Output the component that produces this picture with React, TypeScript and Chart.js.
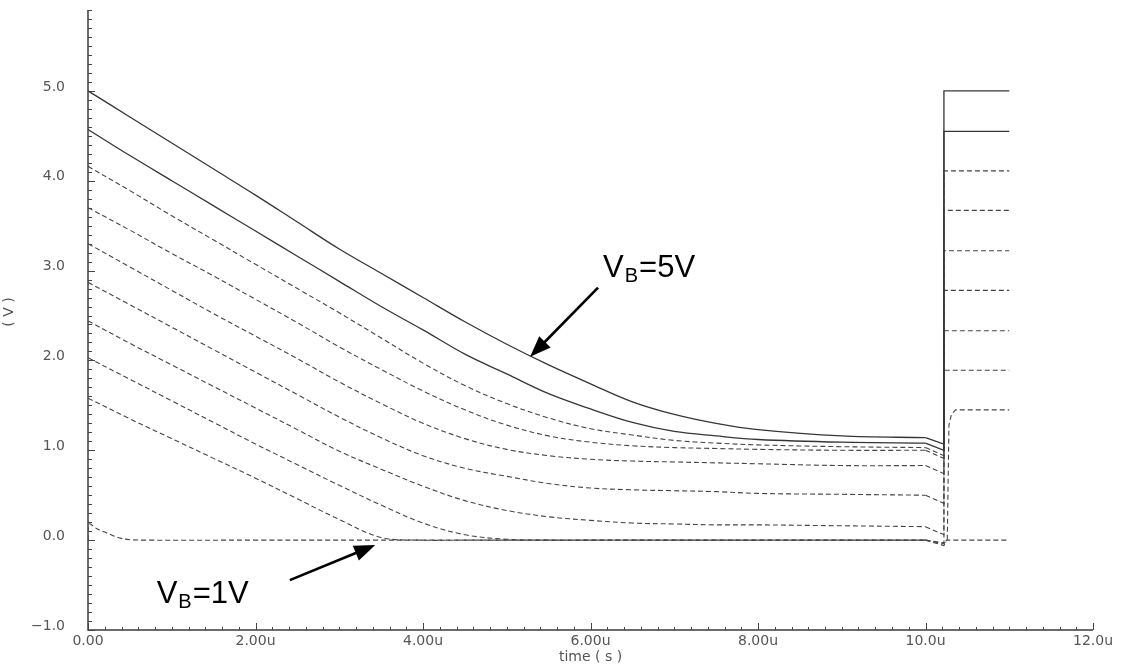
import React, { useEffect, useRef } from "react";
import { Chart, registerables } from "chart.js";

Chart.register(...registerables);

// Discharge phase sample times (µs)
const T_MAIN = [0, 0.5, 1, 1.5, 2, 2.5, 3, 3.5, 4, 4.5, 5, 5.5, 6, 6.5, 7, 7.5, 8, 9, 10];

// Output voltage (V) for each bias, sampled on T_MAIN
const VB_500 = [5.0, 4.71, 4.42, 4.13, 3.84, 3.54, 3.24, 2.97, 2.7, 2.43, 2.18, 1.95, 1.74, 1.54, 1.4, 1.3, 1.23, 1.16, 1.14];
const VB_456 = [4.57, 4.28, 4.0, 3.72, 3.44, 3.16, 2.88, 2.6, 2.34, 2.07, 1.85, 1.63, 1.46, 1.31, 1.21, 1.16, 1.12, 1.09, 1.08];
const VB_411 = [4.16, 3.89, 3.61, 3.34, 3.07, 2.8, 2.53, 2.25, 1.97, 1.72, 1.52, 1.36, 1.24, 1.17, 1.11, 1.08, 1.06, 1.04, 1.03];
const VB_367 = [3.7, 3.45, 3.19, 2.94, 2.68, 2.42, 2.15, 1.9, 1.66, 1.45, 1.28, 1.16, 1.09, 1.05, 1.03, 1.02, 1.01, 1.0, 1.0];
const VB_322 = [3.3, 3.04, 2.78, 2.52, 2.27, 2.02, 1.76, 1.52, 1.3, 1.13, 1.01, 0.94, 0.9, 0.88, 0.87, 0.86, 0.85, 0.83, 0.83];
const VB_278 = [2.87, 2.62, 2.37, 2.12, 1.87, 1.62, 1.37, 1.14, 0.94, 0.8, 0.71, 0.63, 0.58, 0.56, 0.55, 0.54, 0.52, 0.51, 0.5];
const VB_233 = [2.44, 2.19, 1.95, 1.71, 1.47, 1.23, 0.99, 0.79, 0.6, 0.44, 0.33, 0.26, 0.22, 0.19, 0.18, 0.17, 0.17, 0.16, 0.15];
const VB_189 = [2.03, 1.79, 1.55, 1.31, 1.07, 0.84, 0.61, 0.39, 0.19, 0.06, 0.01, 0, 0, 0, 0, 0, 0, 0, 0];
const VB_144 = [1.58, 1.35, 1.13, 0.91, 0.69, 0.46, 0.23, 0.03, 0, 0, 0, 0, 0, 0, 0, 0, 0, 0, 0];

// The 1 V trace settles almost immediately, so it has its own time base
const T_VB_100 = [0, 0.01, 0.1, 0.2, 0.3, 0.4, 0.5, 0.7, 2, 4, 6, 8, 10];
const VB_100 = [0, 0.18, 0.13, 0.09, 0.05, 0.02, 0.005, 0, 0, 0, 0, 0, 0];

// Switch-over at the end of the ramp: short droop, then the jump to the new level
const T_TAIL = [10.22, 10.22, 11.0];
const DROOP = [1.07, 1.0, 0.94, 0.91, 0.74, 0.41, 0.06, -0.03];
const LEVEL = [5.0, 4.55, 4.11, 3.67, 3.22, 2.78, 2.33, 1.89];
const T_TAIL_144 = [10.22, 10.26, 10.28, 10.31, 10.36, 11.0];
const V_TAIL_144 = [-0.04, 0.0, 1.28, 1.4, 1.45, 1.45];
const T_TAIL_100 = [10.22, 10.25, 11.0];
const V_TAIL_100 = [-0.06, 0.0, 0.0];

// Axis ticks
const X_TICKS = [0, 2, 4, 6, 8, 10, 12];
const X_LABELS = ["0.00", "2.00u", "4.00u", "6.00u", "8.00u", "10.0u", "12.0u"];
const Y_TICKS = [-1, 0, 1, 2, 3, 4, 5];
const Y_LABELS = ["\u22121.0", "0.0", "1.0", "2.0", "3.0", "4.0", "5.0"];

// Annotation anchors in data units: [t, v]
const LABEL_5V = [6.15, 2.93];
const ARROW_5V = [6.09, 2.81, 5.28, 2.04];
const LABEL_1V = [0.82, -0.7];
const ARROW_1V = [2.41, -0.445, 3.43, -0.055];

type Pt = { x: number; y: number };
const zip = (ts: number[], vs: number[]): Pt[] => ts.map((t, i) => ({ x: t, y: vs[i] }));

// Each trace is split into its smooth ramp and its sharp switch-over tail
function buildTraces(): { ramp: Pt[]; tail: Pt[] }[] {
  const mains = [VB_500, VB_456, VB_411, VB_367, VB_322, VB_278, VB_233, VB_189];
  const traces = mains.map((vals, i) => {
    const last = vals[vals.length - 1];
    return {
      ramp: zip(T_MAIN, vals),
      tail: [{ x: T_MAIN[T_MAIN.length - 1], y: last }, ...zip(T_TAIL, [DROOP[i], LEVEL[i], LEVEL[i]])],
    };
  });
  traces.push({
    ramp: zip(T_MAIN, VB_144),
    tail: [{ x: T_MAIN[T_MAIN.length - 1], y: VB_144[VB_144.length - 1] }, ...zip(T_TAIL_144, V_TAIL_144)],
  });
  traces.push({
    ramp: zip(T_VB_100, VB_100),
    tail: [{ x: T_VB_100[T_VB_100.length - 1], y: VB_100[VB_100.length - 1] }, ...zip(T_TAIL_100, V_TAIL_100)],
  });
  return traces;
}

function drawArrow(ctx: CanvasRenderingContext2D, x0: number, y0: number, x1: number, y1: number) {
  const ang = Math.atan2(y1 - y0, x1 - x0);
  const head = 21;
  const half = 8;
  const bx = x1 - head * Math.cos(ang);
  const by = y1 - head * Math.sin(ang);
  ctx.beginPath();
  ctx.moveTo(x0, y0);
  ctx.lineTo(bx + 2 * Math.cos(ang), by + 2 * Math.sin(ang));
  ctx.lineWidth = 2.6;
  ctx.stroke();
  ctx.beginPath();
  ctx.moveTo(x1, y1);
  ctx.lineTo(bx - half * Math.sin(ang), by + half * Math.cos(ang));
  ctx.lineTo(bx + half * Math.sin(ang), by - half * Math.cos(ang));
  ctx.closePath();
  ctx.fill();
}

function drawBiasLabel(ctx: CanvasRenderingContext2D, x: number, y: number, value: string) {
  ctx.textBaseline = "alphabetic";
  ctx.textAlign = "left";
  ctx.font = '31px "Liberation Sans", Arial, sans-serif';
  ctx.fillText("V", x, y);
  let cx = x + ctx.measureText("V").width + 1;
  ctx.font = '20px "Liberation Sans", Arial, sans-serif';
  ctx.fillText("B", cx, y + 5);
  cx += ctx.measureText("B").width + 1;
  ctx.font = '31px "Liberation Sans", Arial, sans-serif';
  ctx.fillText("=" + value, cx, y);
}

const decorPlugin = {
  id: "decor",
  beforeDatasetsDraw(chart: any) {
    const { ctx, chartArea, scales } = chart;
    const xs = scales.x;
    const ys = scales.y;
    const left = chartArea.left;
    const bottom = chartArea.bottom;
    ctx.save();
    ctx.strokeStyle = "#3c3c3c";
    ctx.lineWidth = 1.5;
    ctx.beginPath();
    ctx.moveTo(left, chartArea.top);
    ctx.lineTo(left, bottom);
    ctx.lineTo(chartArea.right, bottom);
    ctx.stroke();

    // inner tick marks on the voltage axis, every 0.1 V
    ctx.lineWidth = 1;
    ctx.strokeStyle = "#444";
    ctx.beginPath();
    for (let k = -10; k <= 59; k++) {
      const v = k / 10;
      const py = Math.round(ys.getPixelForValue(v)) + 0.5;
      const len = k % 10 === 0 ? 7 : 4;
      ctx.moveTo(left, py);
      ctx.lineTo(left + len, py);
    }
    // inner tick marks on the time axis, every 0.2 µs
    for (let k = 0; k <= 60; k++) {
      const t = k / 5;
      const px = Math.round(xs.getPixelForValue(t)) + 0.5;
      const len = k % 10 === 0 ? 7 : 3;
      ctx.moveTo(px, bottom);
      ctx.lineTo(px, bottom - len);
    }
    ctx.stroke();

    // axis titles
    ctx.fillStyle = "#555";
    ctx.font = '14px "DejaVu Sans", sans-serif';
    ctx.textAlign = "center";
    ctx.textBaseline = "middle";
    ctx.fillText("time ( s )", (chartArea.left + chartArea.right) / 2, 657);
    ctx.save();
    ctx.translate(9, 312);
    ctx.rotate(-Math.PI / 2);
    ctx.fillText("( V )", 0, 0);
    ctx.restore();
    ctx.restore();
  },
  afterDatasetsDraw(chart: any) {
    const { ctx, scales } = chart;
    const xs = scales.x;
    const ys = scales.y;
    const px = (t: number) => xs.getPixelForValue(t);
    const py = (v: number) => ys.getPixelForValue(v);
    ctx.save();
    ctx.fillStyle = "#000";
    ctx.strokeStyle = "#000";
    drawBiasLabel(ctx, px(LABEL_5V[0]), py(LABEL_5V[1]), "5V");
    drawArrow(ctx, px(ARROW_5V[0]), py(ARROW_5V[1]), px(ARROW_5V[2]), py(ARROW_5V[3]));
    drawBiasLabel(ctx, px(LABEL_1V[0]), py(LABEL_1V[1]), "1V");
    drawArrow(ctx, px(ARROW_1V[0]), py(ARROW_1V[1]), px(ARROW_1V[2]), py(ARROW_1V[3]));
    ctx.restore();
  },
};

export default function App() {
  const canvasRef = useRef<HTMLCanvasElement | null>(null);

  useEffect(() => {
    const canvas = canvasRef.current;
    if (!canvas) return;
    const traces = buildTraces();
    const datasets: any[] = [];
    traces.forEach((tr, i) => {
      const style = {
        borderColor: i < 2 ? "#363636" : "#454545",
        borderWidth: i < 2 ? 1.3 : 1.1,
        borderDash: i < 2 ? [] : [5, 3],
        pointRadius: 0,
        fill: false,
      };
      datasets.push({ ...style, data: tr.ramp, tension: 0.35 });
      datasets.push({ ...style, data: tr.tail, tension: 0 });
    });

    const chart = new Chart(canvas, {
      type: "line",
      data: { datasets },
      options: {
        animation: false,
        responsive: false,
        events: [],
        layout: { padding: { top: 10, right: 31, left: 0, bottom: 0 } },
        plugins: { legend: { display: false }, tooltip: { enabled: false } },
        scales: {
          x: {
            type: "linear",
            min: 0,
            max: 12,
            afterBuildTicks: (s: any) => {
              s.ticks = X_TICKS.map((v) => ({ value: v }));
            },
            afterFit: (s: any) => {
              s.height = 36;
              s.paddingLeft = 0;
              s.paddingRight = 0;
            },
            grid: { display: false, drawTicks: false },
            border: { display: false },
            ticks: {
              autoSkip: false,
              maxRotation: 0,
              padding: 3,
              color: "#555",
              font: { family: "DejaVu Sans", size: 14 },
              callback: (_v: any, i: number) => X_LABELS[i],
            },
          },
          y: {
            type: "linear",
            min: -1,
            max: 5.9,
            afterBuildTicks: (s: any) => {
              s.ticks = Y_TICKS.map((v) => ({ value: v }));
            },
            afterFit: (s: any) => {
              s.width = 88;
              s.paddingTop = 0;
              s.paddingBottom = 0;
            },
            grid: { display: false, drawTicks: false },
            border: { display: false },
            ticks: {
              autoSkip: false,
              padding: 23,
              labelOffset: -4,
              color: "#555",
              font: { family: "DejaVu Sans", size: 14 },
              callback: (_v: any, i: number) => Y_LABELS[i],
            },
          },
        },
      },
      plugins: [decorPlugin],
    } as any);

    return () => chart.destroy();
  }, []);

  return (
    <div style={{ position: "absolute", left: 0, top: 0, width: 1124, height: 666, background: "#fff" }}>
      <canvas ref={canvasRef} width={1124} height={666} style={{ display: "block" }} />
    </div>
  );
}
